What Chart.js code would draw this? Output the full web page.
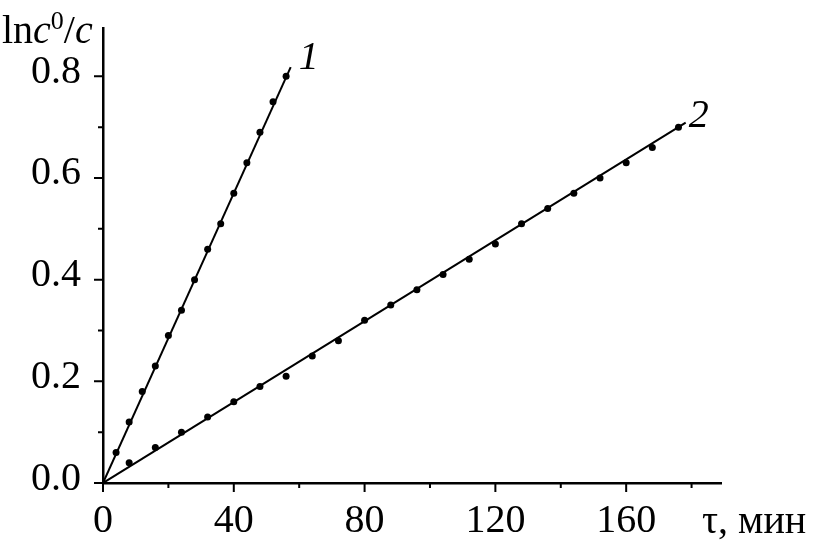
<!DOCTYPE html>
<html>
<head>
<meta charset="utf-8">
<script src="https://cdn.jsdelivr.net/npm/chart.js@4/dist/chart.umd.min.js"></script>
<style>
  html, body { margin: 0; padding: 0; background: #fff; }
  #wrap { width: 820px; height: 546px; }
</style>
</head>
<body>
<div id="wrap"><canvas id="myChart"></canvas></div>
<script>
// curve 1 (points every 4 min)
const series1X = [4, 8, 12, 16, 20, 24, 28, 32, 36, 40, 44, 48, 52, 56];
const series1Y = [0.06, 0.12, 0.18, 0.23, 0.29, 0.34, 0.40, 0.46, 0.51, 0.57, 0.63, 0.69, 0.75, 0.80];
// curve 2 (points every 8 min)
const series2X = [8, 16, 24, 32, 40, 48, 56, 64, 72, 80, 88, 96, 104, 112, 120, 128, 136, 144, 152, 160, 168, 176];
const series2Y = [0.04, 0.07, 0.10, 0.13, 0.16, 0.19, 0.21, 0.25, 0.28, 0.32, 0.35, 0.38, 0.41, 0.44, 0.47, 0.51, 0.54, 0.57, 0.60, 0.63, 0.66, 0.70];
// fitted straight lines through the origin
const fit1X = [0, 57.4];
const fit1Y = [0, 0.818];
const fit2X = [0, 178.2];
const fit2Y = [0, 0.709];
// ticks
const xTicks = [0, 40, 80, 120, 160];
const xMinor = [20, 60, 100, 140, 180];
const yTicks = [0, 0.2, 0.4, 0.6, 0.8];
const yMinor = [0.1, 0.3, 0.5, 0.7];
const curveLabels = ['1', '2'];

const FONT = "'Liberation Serif', 'Times New Roman', serif";
const toPts = (xs, ys) => xs.map((x, i) => ({x: x, y: ys[i]}));

const decor = {
  id: 'decor',
  afterDraw(chart) {
    const {ctx, scales: {x, y}} = chart;
    ctx.save();
    ctx.strokeStyle = '#000';
    ctx.lineWidth = 2;
    const base = y.getPixelForValue(0);
    const left = x.getPixelForValue(0);
    ctx.beginPath();
    xTicks.forEach(v => { const p = x.getPixelForValue(v); ctx.moveTo(p, base); ctx.lineTo(p, base + 9); });
    xMinor.forEach(v => { const p = x.getPixelForValue(v); ctx.moveTo(p, base); ctx.lineTo(p, base + 5); });
    yTicks.forEach(v => { const p = y.getPixelForValue(v); ctx.moveTo(left, p); ctx.lineTo(left - 9, p); });
    yMinor.forEach(v => { const p = y.getPixelForValue(v); ctx.moveTo(left, p); ctx.lineTo(left - 5, p); });
    ctx.stroke();

    ctx.fillStyle = '#000';
    ctx.textBaseline = 'alphabetic';
    ctx.textAlign = 'left';

    // y axis title: ln c^0 / c
    let cx = 2;
    const by = 43;
    const part = (txt, font, dy) => {
      ctx.font = font;
      ctx.fillText(txt, cx, by + (dy || 0));
      cx += ctx.measureText(txt).width;
    };
    part('ln', '40px ' + FONT);
    part('c', 'italic 40px ' + FONT);
    part('0', '26px ' + FONT, -14);
    part('/', '40px ' + FONT);
    part('c', 'italic 40px ' + FONT);

    // x axis title
    ctx.font = '40px ' + FONT;
    ctx.fillText('τ, мин', 702, 533);

    // curve numbers
    ctx.font = 'italic 40px ' + FONT;
    ctx.fillText(curveLabels[0], x.getPixelForValue(fit1X[1]) + 8, y.getPixelForValue(fit1Y[1]) + 2);
    ctx.fillText(curveLabels[1], x.getPixelForValue(fit2X[1]) + 3, y.getPixelForValue(fit2Y[1]) + 4);
    ctx.restore();
  }
};

const ctx1 = document.getElementById('myChart').getContext('2d');

new Chart(ctx1, {
  type: 'scatter',
  data: {
    datasets: [
      {
        label: 'fit 1',
        data: toPts(fit1X, fit1Y),
        showLine: true,
        borderColor: '#000',
        borderWidth: 2,
        pointRadius: 0
      },
      {
        label: 'fit 2',
        data: toPts(fit2X, fit2Y),
        showLine: true,
        borderColor: '#000',
        borderWidth: 2,
        pointRadius: 0
      },
      {
        label: '1',
        data: toPts(series1X, series1Y),
        backgroundColor: '#000',
        borderColor: '#000',
        pointRadius: 3.5,
        borderWidth: 0
      },
      {
        label: '2',
        data: toPts(series2X, series2Y),
        backgroundColor: '#000',
        borderColor: '#000',
        pointRadius: 3.5,
        borderWidth: 0
      }
    ]
  },
  options: {
    responsive: true,
    maintainAspectRatio: false,
    animation: false,
    layout: { padding: { top: 28, right: 99, left: 0, bottom: 0 } },
    plugins: {
      legend: { display: false },
      tooltip: { enabled: false }
    },
    scales: {
      x: {
        type: 'linear',
        min: 0,
        max: 189,
        afterFit: s => { s.height = 63; s.paddingLeft = 0; s.paddingRight = 0; },
        afterBuildTicks: s => { s.ticks = xTicks.map(v => ({value: v})); },
        grid: { display: true, drawOnChartArea: false, drawTicks: true, tickLength: 9, color: 'rgba(0,0,0,0)' },
        border: { display: true, color: '#000', width: 2.5 },
        ticks: {
          color: '#000',
          padding: 5,
          maxRotation: 0,
          font: { family: FONT, size: 40 },
          callback: v => String(v)
        }
      },
      y: {
        type: 'linear',
        min: 0,
        max: 0.895,
        afterFit: s => { s.width = 103; s.paddingTop = 0; s.paddingBottom = 0; },
        afterBuildTicks: s => { s.ticks = yTicks.map(v => ({value: v})); },
        grid: { display: true, drawOnChartArea: false, drawTicks: true, tickLength: 9, color: 'rgba(0,0,0,0)' },
        border: { display: true, color: '#000', width: 2.5 },
        ticks: {
          color: '#000',
          padding: 13,
          labelOffset: -4,
          font: { family: FONT, size: 40 },
          callback: v => v.toFixed(1)
        }
      }
    }
  },
  plugins: [decor]
});
</script>
</body>
</html>
